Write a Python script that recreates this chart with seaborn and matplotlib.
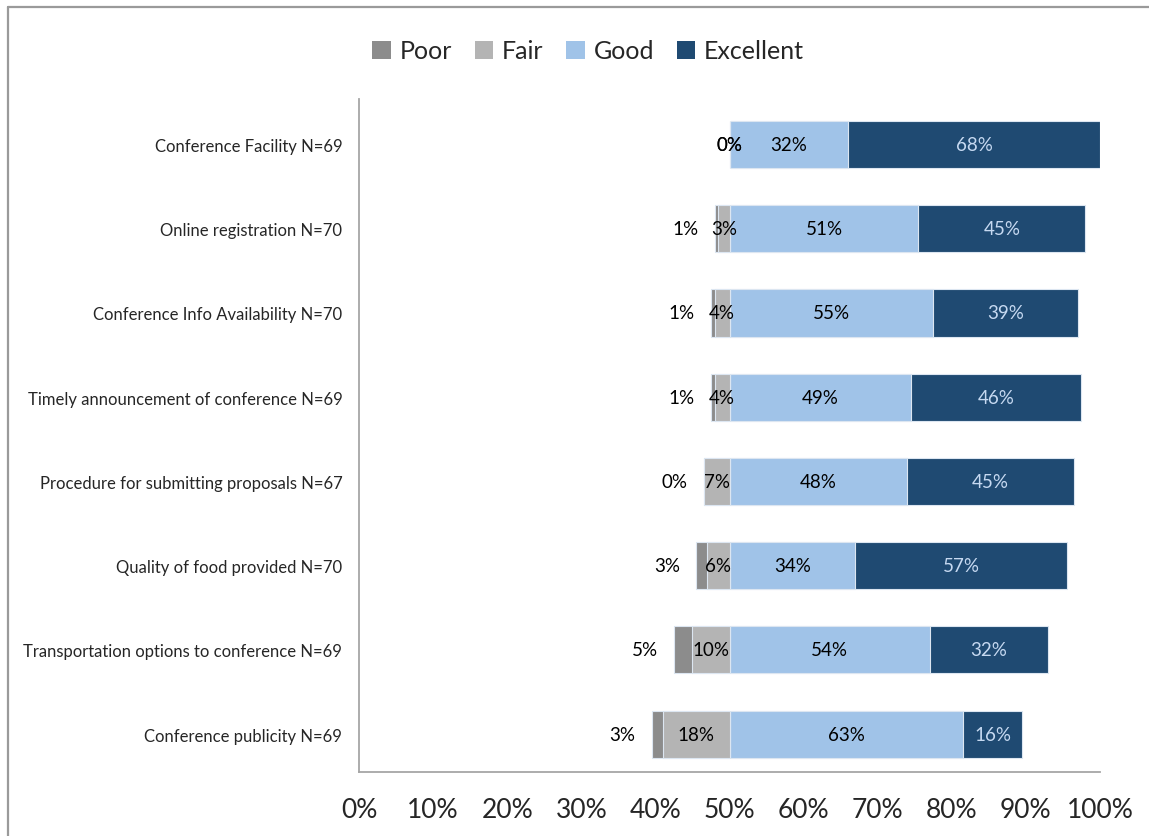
import matplotlib
matplotlib.use("Agg")
import matplotlib.pyplot as plt
import seaborn as sns
import pandas as pd
import numpy as np
from matplotlib.patches import Patch
from matplotlib.lines import Line2D

categories = [
    "Conference Facility N=69",
    "Online registration N=70",
    "Conference Info Availability N=70",
    "Timely announcement of conference N=69",
    "Procedure for submitting proposals N=67",
    "Quality of food provided N=70",
    "Transportation options to conference N=69",
    "Conference publicity N=69",
]
poor = [0, 1, 1, 1, 0, 3, 5, 3]
fair = [0, 3, 4, 4, 7, 6, 10, 18]
good = [32, 51, 55, 49, 48, 34, 54, 63]
excellent = [68, 45, 39, 46, 45, 57, 32, 16]
series_names = ["Poor", "Fair", "Good", "Excellent"]
xtick_labels = ["0%", "10%", "20%", "30%", "40%", "50%", "60%", "70%", "80%", "90%", "100%"]

colors = {"Poor": "#8c8c8c", "Fair": "#b4b4b4", "Good": "#a0c3e8", "Excellent": "#1f4a72"}

sns.set_theme(style="white")
plt.rcParams["font.family"] = ["Lato", "DejaVu Sans"]

center = 50.0
poor_a = np.array(poor, float) / 2
fair_a = np.array(fair, float) / 2
good_a = np.array(good, float) / 2
exc_a = np.array(excellent, float) / 2

df = pd.DataFrame({
    "cat": categories,
    "poor_end": center - fair_a - poor_a,
    "fair_end": center - fair_a,
    "good_end": center + good_a,
    "exc_end": center + good_a + exc_a,
})

fig = plt.figure(figsize=(11.49, 8.37), dpi=100)
ax = fig.add_axes([359/1149, 1-773/837, (1100-359)/1149, (773-100)/837])

edge = dict(edgecolor="#dce6f1", linewidth=0.8)
bh = 0.56
sns.barplot(data=df, y="cat", x="exc_end", color=colors["Excellent"], orient="h",
            width=bh, ax=ax, saturation=1, **edge)
sns.barplot(data=df, y="cat", x="good_end", color=colors["Good"], orient="h",
            width=bh, ax=ax, saturation=1, **edge)
ypos = np.arange(len(categories))
# mask the part of the seaborn bars left of the centre line
ax.barh(ypos, np.full(len(categories), center), left=0, height=bh + 0.04,
        color="white", edgecolor="white", linewidth=1.5, zorder=1.5)
ax.barh(ypos, center - df["poor_end"], left=df["poor_end"],
        height=bh, color=colors["Poor"], zorder=2, **edge)
ax.barh(ypos, center - df["fair_end"], left=df["fair_end"],
        height=bh, color=colors["Fair"], zorder=2, **edge)

fs = 13.5
for i in range(len(categories)):
    if poor[i] == 0 and fair[i] == 0:
        ax.text(center, i, f"{poor[i]}%", ha="center", va="center", fontsize=fs, color="black", zorder=5)
    else:
        ax.text(df["poor_end"][i] - 2.2, i, f"{poor[i]}%", ha="right", va="center",
                fontsize=fs, color="black", zorder=5)
    ax.text(center - fair_a[i] / 2, i, f"{fair[i]}%", ha="center", va="center",
            fontsize=fs, color="black", zorder=5)
    ax.text(center + good_a[i] / 2, i, f"{good[i]}%", ha="center", va="center",
            fontsize=fs, color="black", zorder=5)
    ax.text(center + good_a[i] + exc_a[i] / 2, i, f"{excellent[i]}%", ha="center", va="center",
            fontsize=fs, color="#c6d9f1", zorder=5)

ax.set_xlim(0, 100)
ax.set_ylim(7.45, -0.54)
ax.set_xticks(np.arange(0, 101, 10))
ax.set_xticklabels(xtick_labels, fontsize=19)
ax.set_xlabel("")
ax.set_ylabel("")
ax.set_yticks(ypos)
ax.set_yticklabels(categories, fontsize=12)
ax.tick_params(axis="y", length=0, pad=12)
ax.tick_params(axis="x", length=0, pad=18)
for s in ["top", "right"]:
    ax.spines[s].set_visible(False)
for s in ["left", "bottom"]:
    ax.spines[s].set_color("#a6a6a6")
    ax.spines[s].set_linewidth(1.3)
    ax.spines[s].set_zorder(6)
ax.grid(False)

handles = [Patch(facecolor=colors[n], edgecolor="none") for n in series_names]
fig.legend(handles, series_names, loc="center", bbox_to_anchor=(0.512, 0.938), ncol=4,
           frameon=False, fontsize=18, handlelength=0.75, handleheight=0.75,
           handletextpad=0.35, columnspacing=0.9)

fig.add_artist(Line2D([8/1149, 8/1149], [0, 1-8/837], transform=fig.transFigure,
                      color="#9a9a9a", linewidth=1.6))
fig.add_artist(Line2D([8/1149, 1], [1-8/837, 1-8/837], transform=fig.transFigure,
                      color="#9a9a9a", linewidth=1.6))

fig.savefig("out.png", dpi=100)
